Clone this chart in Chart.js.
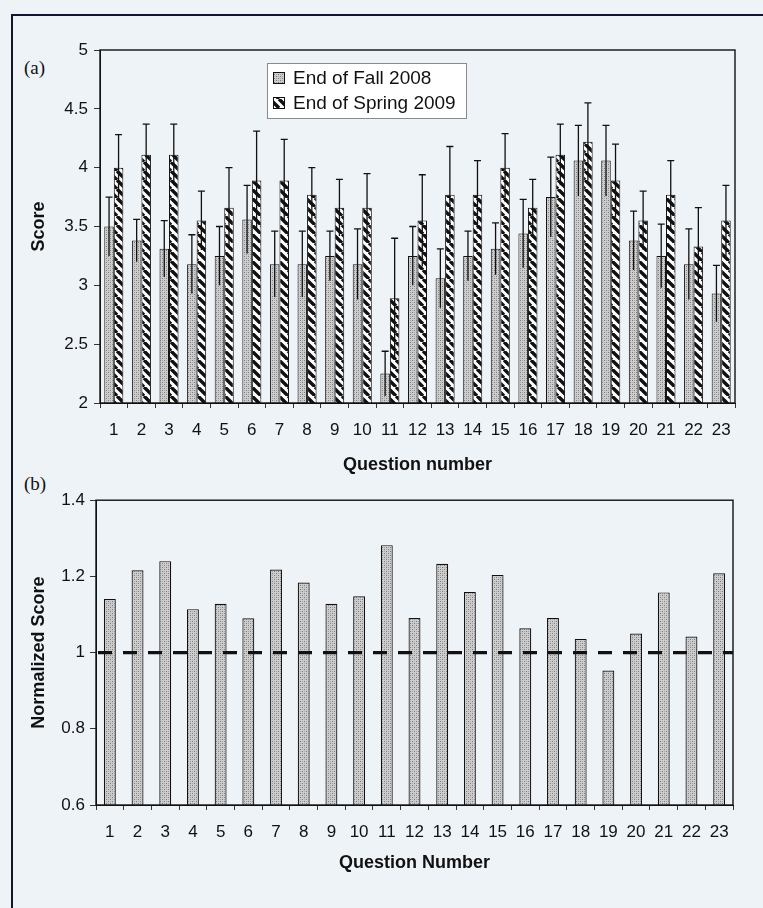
<!DOCTYPE html>
<html><head><meta charset="utf-8">
<script src="https://cdn.jsdelivr.net/npm/chart.js@4.4.1/dist/chart.umd.min.js"></script>
<style>
html,body{margin:0;padding:0;background:#eef3f8;}
body{width:763px;height:908px;position:relative;overflow:hidden;font-family:"Liberation Sans",Arial,sans-serif;}
#frame{position:absolute;left:11px;top:14px;width:800px;height:950px;border-left:2px solid #14142e;border-top:2px solid #14142e;}
#wa{position:absolute;left:0;top:0;width:763px;height:485px;}
#wb{position:absolute;left:0;top:485px;width:763px;height:423px;}
.lbl{position:absolute;font-family:"Liberation Serif","Times New Roman",serif;font-size:19px;line-height:20px;color:#111;}
</style></head>
<body>
<div id="frame"></div>
<div class="lbl" style="left:24px;top:58px">(a)</div>
<div class="lbl" style="left:24px;top:474px">(b)</div>
<div id="wa"><canvas id="ca"></canvas></div>
<div id="wb"><canvas id="cb"></canvas></div>
<script>
// ---- data ----
const questions = ['1','2','3','4','5','6','7','8','9','10','11','12','13','14','15','16','17','18','19','20','21','22','23'];
const fallLabel = 'End of Fall 2008';
const springLabel = 'End of Spring 2009';
const fallScores   = [3.50,3.38,3.31,3.18,3.25,3.56,3.18,3.18,3.25,3.18,2.25,3.25,3.06,3.25,3.31,3.44,3.75,4.06,4.06,3.38,3.25,3.18,2.93];
const fallErrors   = [0.25,0.18,0.24,0.25,0.25,0.29,0.28,0.28,0.21,0.30,0.19,0.25,0.25,0.21,0.22,0.29,0.34,0.30,0.30,0.25,0.27,0.30,0.24];
const springScores = [4.00,4.11,4.11,3.55,3.66,3.89,3.89,3.77,3.66,3.66,2.89,3.55,3.77,3.77,4.00,3.66,4.11,4.22,3.89,3.55,3.77,3.33,3.55];
const springErrors = [0.28,0.26,0.26,0.25,0.34,0.42,0.35,0.23,0.24,0.29,0.51,0.39,0.41,0.29,0.29,0.24,0.26,0.33,0.31,0.25,0.29,0.33,0.30];
const normalizedScores = [1.141,1.216,1.240,1.114,1.128,1.090,1.218,1.184,1.128,1.148,1.282,1.091,1.233,1.159,1.204,1.064,1.091,1.036,0.953,1.050,1.158,1.042,1.208];
const scoreTicks = [2,2.5,3,3.5,4,4.5,5];
const normTicks = [0.6,0.8,1,1.2,1.4];
const referenceLevel = 1;

// ---- patterns ----
function stipple(){
  const c=document.createElement('canvas'); c.width=4; c.height=4;
  const g=c.getContext('2d');
  g.fillStyle='#cdcdcd'; g.fillRect(0,0,4,4);
  g.fillStyle='#7c7c7c'; g.fillRect(0,0,1,1); g.fillRect(2,2,1,1);
  g.fillStyle='#a6a6a6'; g.fillRect(2,0,1,1); g.fillRect(0,2,1,1);
  return g.createPattern(c,'repeat');
}
function stripes(){
  const s=9; const c=document.createElement('canvas'); c.width=s; c.height=s;
  const g=c.getContext('2d');
  g.fillStyle='#ffffff'; g.fillRect(0,0,s,s);
  g.strokeStyle='#111111'; g.lineWidth=3.4; g.beginPath();
  for(const k of [-s,0,s]){ g.moveTo(k,0); g.lineTo(k+s,s); }
  g.stroke();
  return g.createPattern(c,'repeat');
}
const fallFill = stipple();
const springFill = stripes();
const INK = '#111111';
const tickFont = {family:'"Liberation Sans", Arial, sans-serif', size:17};
const titleFont = {family:'"Liberation Sans", Arial, sans-serif', size:18, weight:'bold', lineHeight:1.2};

const frameBox = {
  id:'frameBox',
  afterDatasetsDraw(chart){
    const {ctx, chartArea:a} = chart;
    ctx.save(); ctx.strokeStyle=INK; ctx.lineWidth=1.4;
    ctx.strokeRect(a.left, a.top, a.right-a.left, a.bottom-a.top);
    ctx.restore();
  }
};

const errorBars = {
  id:'errorBars',
  afterDatasetsDraw(chart, args, opts){
    const {ctx} = chart; const y = chart.scales.y;
    ctx.save(); ctx.strokeStyle=INK; ctx.lineWidth=1.3;
    chart.data.datasets.forEach((ds, di)=>{
      const errs = opts.errors[di]; if(!errs) return;
      chart.getDatasetMeta(di).data.forEach((el, i)=>{
        const v = ds.data[i], e = errs[i];
        const yt = y.getPixelForValue(v+e), yb = y.getPixelForValue(v-e);
        ctx.beginPath(); ctx.moveTo(el.x, yb); ctx.lineTo(el.x, yt);
        ctx.moveTo(el.x-3.5, yt); ctx.lineTo(el.x+3.5, yt); ctx.stroke();
      });
    });
    ctx.restore();
  }
};

const boxLegend = {
  id:'boxLegend',
  afterDraw(chart){
    const {ctx} = chart;
    const x0=267, y0=63, w=199, h=55;
    ctx.save();
    ctx.fillStyle='#ffffff'; ctx.fillRect(x0,y0,w,h);
    ctx.strokeStyle='#8a8a8a'; ctx.lineWidth=1; ctx.strokeRect(x0+0.5,y0+0.5,w,h);
    ctx.font='19px "Liberation Sans", Arial, sans-serif'; ctx.textBaseline='middle'; ctx.fillStyle=INK;
    chart.data.datasets.forEach((ds,i)=>{
      const cy = y0+15+i*25;
      ctx.fillStyle=ds.backgroundColor; ctx.fillRect(x0+6, cy-6, 12, 12);
      ctx.strokeStyle=INK; ctx.strokeRect(x0+6.5, cy-5.5, 11, 11);
      ctx.fillStyle=INK; ctx.fillText(ds.label, x0+26, cy+1);
    });
    ctx.restore();
  }
};

const refLine = {
  id:'refLine',
  afterDatasetsDraw(chart, args, opts){
    const {ctx, chartArea:a} = chart; const py = chart.scales.y.getPixelForValue(opts.value);
    ctx.save(); ctx.strokeStyle=INK; ctx.lineWidth=3.4; ctx.setLineDash([14,11]);
    ctx.beginPath(); ctx.moveTo(a.left+2, py); ctx.lineTo(a.right, py); ctx.stroke();
    ctx.restore();
  }
};

function xScale(title, height, titleBottom){
  return {
    type:'category',
    grid:{display:true, drawOnChartArea:false, drawTicks:true, tickLength:5, color:'#333', offset:true},
    border:{display:true, color:INK, width:1},
    ticks:{color:INK, font:tickFont, padding:12, maxRotation:0, autoSkip:false},
    title:{display:true, text:title, color:INK, font:titleFont, padding:{top:0,bottom:titleBottom}},
    afterFit(s){ s.height=height; }
  };
}
function yScale(title, min, max, ticksArr, width, pad){
  return {
    min, max,
    afterBuildTicks(s){ s.ticks = ticksArr.map(v=>({value:v})); },
    grid:{display:true, drawOnChartArea:false, drawTicks:true, tickLength:6, color:'#333'},
    border:{display:true, color:INK, width:1},
    ticks:{color:INK, font:tickFont, padding:pad, callback:v=>String(Math.round(v*10)/10)},
    title:{display:true, text:title, color:INK, font:titleFont, padding:{top:28,bottom:0}},
    afterFit(s){ s.width=width; }
  };
}

new Chart(document.getElementById('ca'), {
  type:'bar',
  data:{
    labels:questions,
    datasets:[
      {label:fallLabel, data:fallScores, backgroundColor:fallFill, borderColor:INK, borderWidth:1, categoryPercentage:0.69, barPercentage:1.0},
      {label:springLabel, data:springScores, backgroundColor:springFill, borderColor:INK, borderWidth:1, categoryPercentage:0.69, barPercentage:1.0}
    ]
  },
  options:{
    responsive:true, maintainAspectRatio:false, animation:false,
    layout:{padding:{top:50,right:28,left:0,bottom:0}},
    plugins:{legend:{display:false}, tooltip:{enabled:false}, errorBars:{errors:[fallErrors, springErrors]}},
    scales:{ x:xScale('Question number', 82, 9), y:yScale('Score', 2, 5, scoreTicks, 100, 6) }
  },
  plugins:[frameBox, errorBars, boxLegend]
});

new Chart(document.getElementById('cb'), {
  type:'bar',
  data:{
    labels:questions,
    datasets:[
      {label:'Normalized Score', data:normalizedScores, backgroundColor:fallFill, borderColor:INK, borderWidth:1.2, categoryPercentage:1.0, barPercentage:0.43}
    ]
  },
  options:{
    responsive:true, maintainAspectRatio:false, animation:false,
    layout:{padding:{top:11,right:30,left:0,bottom:0}},
    plugins:{legend:{display:false}, tooltip:{enabled:false}, refLine:{value:referenceLevel}},
    scales:{ x:xScale('Question Number', 103, 34), y:yScale('Normalized Score', 0.6, 1.4, normTicks, 96, 5) }
  },
  plugins:[frameBox, refLine]
});
</script>
</body></html>
